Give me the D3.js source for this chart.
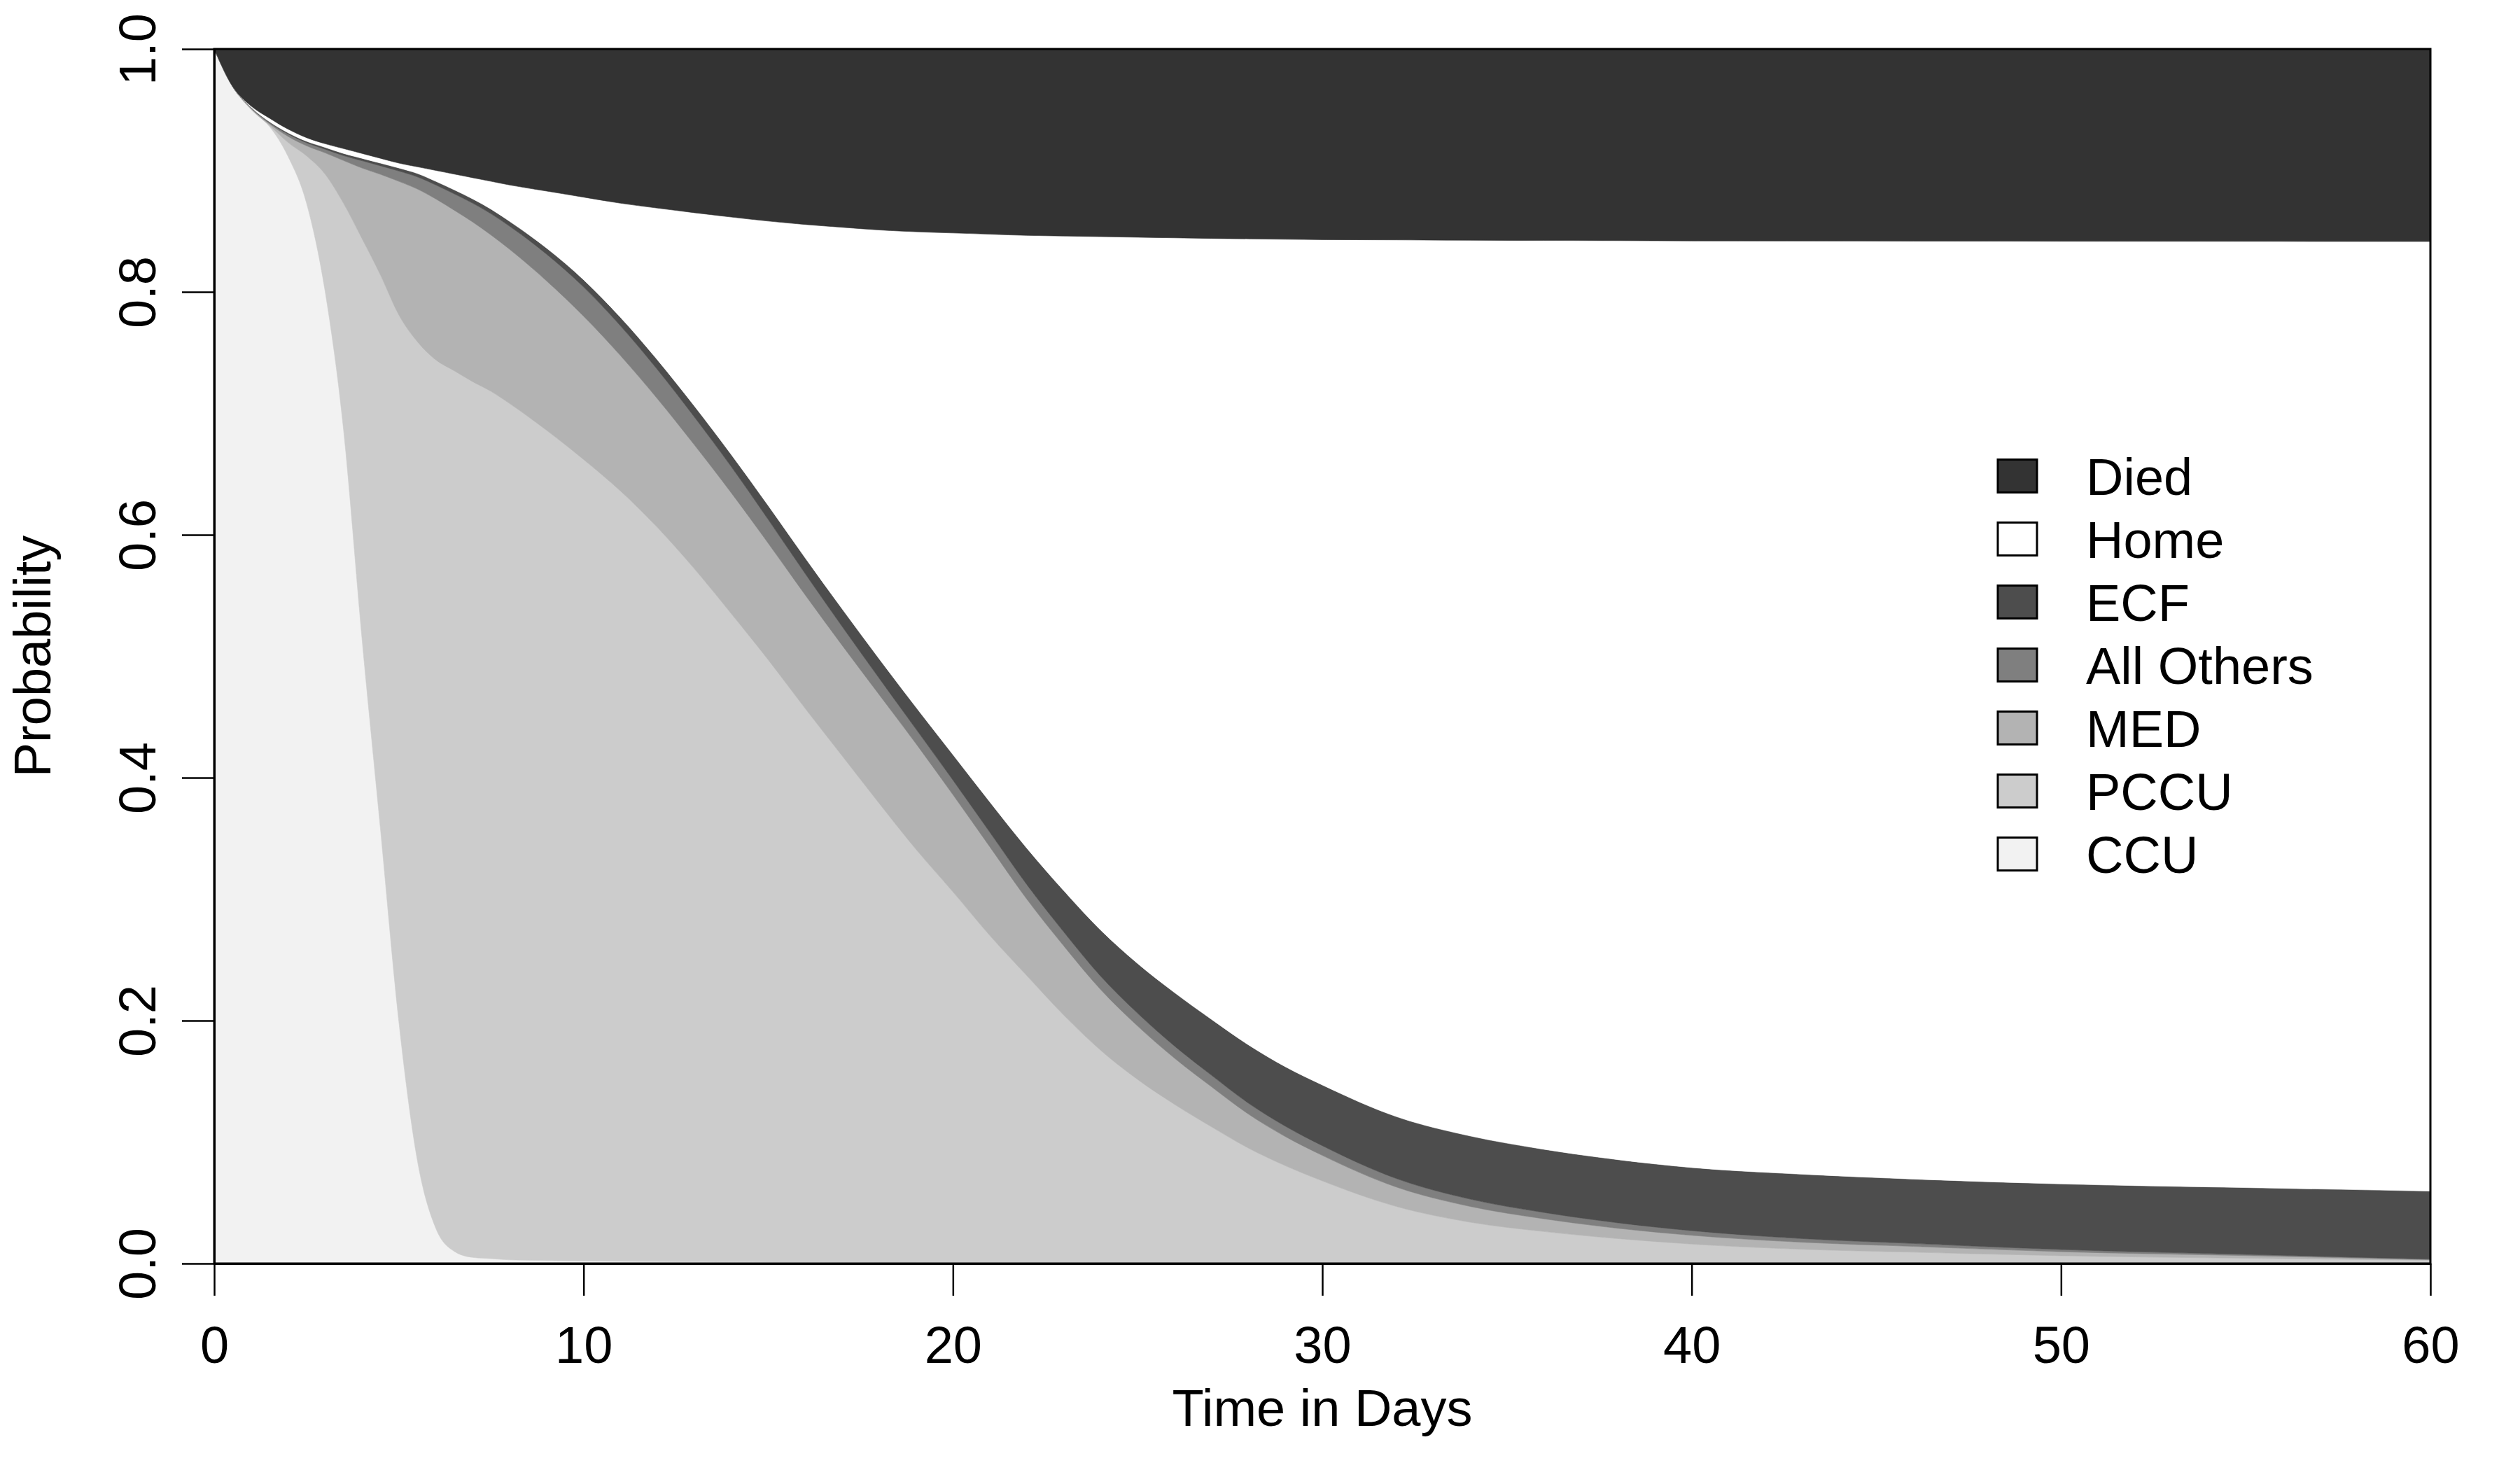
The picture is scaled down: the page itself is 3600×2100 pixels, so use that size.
<!DOCTYPE html>
<html><head><meta charset="utf-8">
<script src="https://cdn.jsdelivr.net/npm/d3@7"></script>
<style>body{margin:0;background:#fff}</style>
</head><body>
<svg id="chart" width="3600" height="2100"></svg>
<script>
// ---- data (probability of being in each state) ----
const times = [0,0.5,1,1.5,2,2.5,3,3.5,4,4.5,5,5.5,6,6.5,7,7.5,8,9,10,11,12,13,14,15,16,17,18,19,20,21,22,23,24,25,26,27,28,29,30,32,34,36,38,40,43,46,50,55,60];
const ccu = [1,0.969,0.950,0.936,0.9115,0.873,0.801,0.687,0.515,0.358,0.199,0.085,0.029,0.010,0.005,0.004,0.003,0.0025,0.002,0.0018,0.0016,0.0014,0.0013,0.0012,0.0011,0.001,0.0009,0.0009,0.0008,0.0008,0.0007,0.0007,0.0006,0.0006,0.0006,0.0005,0.0005,0.0005,0.0005,0.0004,0.0004,0.0003,0.0003,0.0003,0.0002,0.0002,0.0001,0.0001,0];
const pccu = [0,0,0.0005,0.001,0.0115,0.039,0.096,0.186,0.329,0.456,0.582,0.674,0.715,0.725,0.721,0.714,0.705,0.6835,0.660,0.6342,0.6044,0.5706,0.5337,0.4958,0.4559,0.417,0.3781,0.3401,0.3052,0.2692,0.2363,0.2038,0.1749,0.1509,0.1304,0.112,0.0945,0.080,0.0675,0.0466,0.0336,0.026,0.0202,0.0157,0.0115,0.0091,0.0063,0.0042,0.0026];
const med = [0,0,0.0005,0.0013,0.005,0.0083,0.0175,0.0352,0.058,0.0828,0.110,0.1257,0.1325,0.1322,0.1315,0.1287,0.127,0.123,0.118,0.1115,0.106,0.102,0.0995,0.096,0.0935,0.091,0.0895,0.087,0.080,0.073,0.063,0.057,0.050,0.044,0.038,0.033,0.028,0.024,0.021,0.016,0.013,0.0105,0.0085,0.0072,0.0058,0.0048,0.0033,0.0022,0.0005];
const allOthers = [0,0,0.0007,0.001,0.002,0.0025,0.003,0.004,0.006,0.007,0.0085,0.010,0.0115,0.0135,0.0155,0.0175,0.019,0.022,0.024,0.0245,0.024,0.023,0.0215,0.0195,0.0175,0.0155,0.0135,0.012,0.012,0.012,0.012,0.0115,0.011,0.0105,0.010,0.0095,0.009,0.0085,0.008,0.007,0.006,0.0052,0.0045,0.0038,0.003,0.0024,0.0018,0.001,0.0005];
const ecf = [0,0,0.0003,0.0007,0.001,0.0012,0.0015,0.0018,0.002,0.0022,0.0025,0.0028,0.003,0.0033,0.0035,0.0038,0.004,0.005,0.006,0.007,0.008,0.009,0.010,0.0115,0.013,0.0145,0.016,0.018,0.021,0.025,0.030,0.034,0.038,0.041,0.044,0.046,0.048,0.049,0.050,0.051,0.052,0.052,0.052,0.052,0.053,0.053,0.054,0.055,0.056];
const home = [0,0,0.001,0.003,0.003,0.003,0.003,0.004,0.004,0.004,0.004,0.0055,0.009,0.013,0.0175,0.023,0.030,0.047,0.068,0.094,0.125,0.1592,0.1956,0.2343,0.2745,0.3142,0.353,0.3915,0.4295,0.4675,0.5045,0.539,0.571,0.598,0.6215,0.643,0.6637,0.6813,0.696,0.7218,0.7375,0.7483,0.7567,0.763,0.7684,0.7723,0.7762,0.7791,0.7819];
const died = [0,0.031,0.047,0.057,0.066,0.073,0.078,0.082,0.086,0.090,0.094,0.097,0.100,0.103,0.106,0.109,0.112,0.117,0.122,0.127,0.131,0.1348,0.1384,0.1417,0.1445,0.1468,0.149,0.1505,0.1515,0.1525,0.1535,0.154,0.1545,0.155,0.1555,0.156,0.1563,0.1567,0.157,0.1572,0.1575,0.1577,0.1578,0.158,0.1581,0.1582,0.1583,0.1584,0.1585];

const stateNames = ["CCU","PCCU","MED","All Others","ECF","Home","Died"]; // bottom -> top
const stateValues = [ccu, pccu, med, allOthers, ecf, home, died];
const stateColors = ["#f2f2f2","#cccccc","#b3b3b3","#7f7f7f","#4d4d4d","#ffffff","#333333"];
const legendOrder = ["Died","Home","ECF","All Others","MED","PCCU","CCU"];
const xTicks = [0,10,20,30,40,50,60];
const yTicks = [0,0.2,0.4,0.6,0.8,1.0];
const xTitle = "Time in Days";
const yTitle = "Probability";

// ---- build ----
const FONT = "'Liberation Sans', Arial, Helvetica, sans-serif";
const FS = 74;
const L = 306, R = 3472, T = 70, B = 1805;
const svg = d3.select("#chart");

const rows = times.map((t, i) => {
  const r = {t};
  stateNames.forEach((k, j) => r[k] = stateValues[j][i]);
  return r;
});
const series = d3.stack().keys(stateNames)(rows);

const x = d3.scaleLinear().domain([0, 60]).range([L, R]);
const y = d3.scaleLinear().domain([0, 1]).range([B, T]);

svg.append("defs").append("clipPath").attr("id", "clip")
  .append("rect").attr("x", L).attr("y", T).attr("width", R - L).attr("height", B - T);

const area = d3.area()
  .x(d => x(d.data.t))
  .y0(d => y(d[0]))
  .y1(d => y(Math.min(1, d[1])))
  .curve(d3.curveMonotoneX);

svg.append("g").attr("clip-path", "url(#clip)")
  .selectAll("path").data(series).join("path")
  .attr("d", area)
  .attr("fill", (d, i) => stateColors[i])
  .attr("stroke", (d, i) => stateColors[i])
  .attr("stroke-width", 0.6);

// axes
const xAxis = d3.axisBottom(x).tickValues(xTicks).tickFormat(d3.format("d"))
  .tickSize(46).tickSizeOuter(0).tickPadding(43);
const gx = svg.append("g").attr("transform", `translate(0,${B})`).call(xAxis);
gx.attr("font-size", FS).attr("font-family", FONT);
gx.selectAll("line").attr("stroke-width", 2.5);
gx.select(".domain").attr("stroke-width", 3);
gx.selectAll("text").attr("fill", "#000");

const yAxis = d3.axisLeft(y).tickValues(yTicks).tickFormat(d3.format(".1f"))
  .tickSize(46).tickSizeOuter(0);
const gy = svg.append("g").attr("transform", `translate(${L},0)`).call(yAxis);
gy.attr("font-size", FS).attr("font-family", FONT);
gy.selectAll("line").attr("stroke-width", 2.5);
gy.select(".domain").attr("stroke-width", 3);
gy.selectAll("text")
  .attr("x", null).attr("dy", null)
  .attr("text-anchor", "middle")
  .attr("transform", "translate(-84,0) rotate(-90)")
  .attr("fill", "#000");

// box
svg.append("rect").attr("x", L).attr("y", T).attr("width", R - L).attr("height", B - T)
  .attr("fill", "none").attr("stroke", "#000").attr("stroke-width", 3);

// titles
svg.append("text").attr("x", (L + R) / 2).attr("y", 2037)
  .attr("text-anchor", "middle").attr("font-family", FONT).attr("font-size", FS)
  .text(xTitle);
svg.append("text").attr("transform", `translate(72,${(T + B) / 2}) rotate(-90)`)
  .attr("text-anchor", "middle").attr("font-family", FONT).attr("font-size", FS)
  .text(yTitle);

// legend
const lg = svg.append("g");
legendOrder.forEach((name, i) => {
  const cy = 680 + 90 * i;
  const col = stateColors[stateNames.indexOf(name)];
  lg.append("rect").attr("x", 2854).attr("y", cy - 23.5).attr("width", 56).attr("height", 47)
    .attr("fill", col).attr("stroke", "#000").attr("stroke-width", 3);
  lg.append("text").attr("x", 2980).attr("y", cy + 27)
    .attr("font-family", FONT).attr("font-size", FS).text(name);
});
</script>
</body></html>
